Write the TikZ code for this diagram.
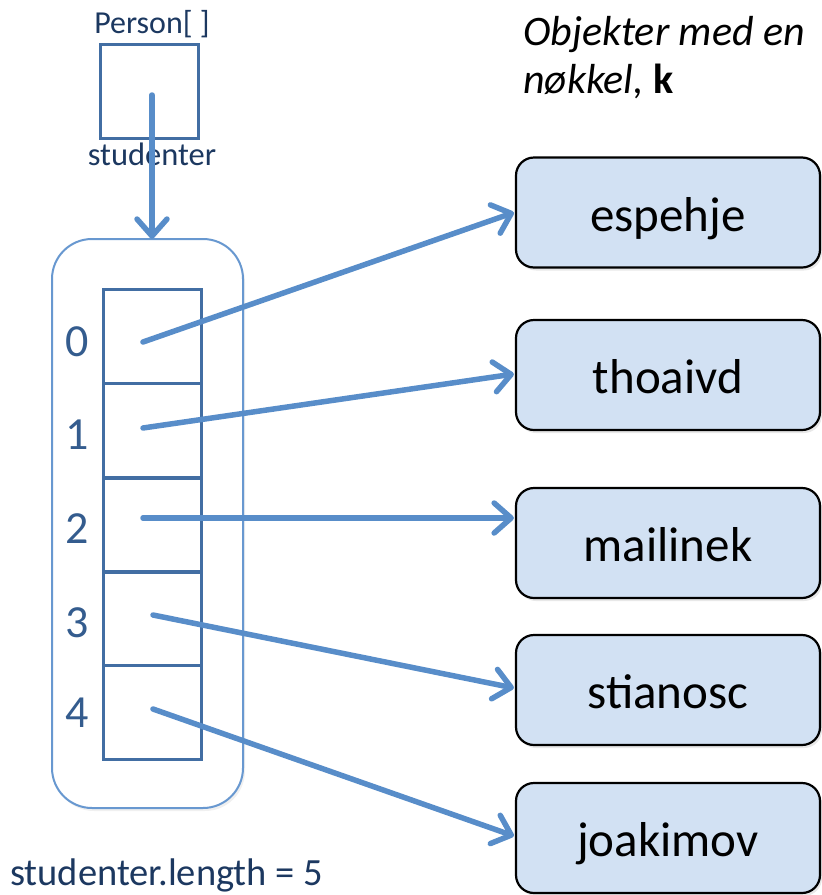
\documentclass[tikz,border=0pt]{standalone}
\usepackage{fontspec}
\setmainfont{Carlito}
\usetikzlibrary{arrows.meta,shadows}

\definecolor{arrowblue}{RGB}{88,141,201}
\definecolor{cellblue}{RGB}{66,110,163}
\definecolor{frameblue}{RGB}{104,152,208}
\definecolor{navy}{RGB}{28,56,96}
\definecolor{idxblue}{RGB}{52,92,142}
\definecolor{boxfill}{RGB}{210,225,243}

\tikzset{
  ptr/.style={draw=arrowblue, line width=5.5pt, line cap=round,
    -{Straight Barb[length=17pt, width=30pt, line cap=round, line join=round]}},
  cell/.style={draw=cellblue, line width=3pt, minimum width=98pt,
    minimum height=94pt, inner sep=0pt},
  objbox/.style={draw=black, line width=2.2pt, fill=boxfill, rounded corners=18pt,
    minimum width=304pt, minimum height=110pt, inner sep=0pt,
    text height=37pt, text depth=0pt,
    font=\fontsize{49}{58}\selectfont,
    drop shadow={opacity=0.18, shadow xshift=2pt, shadow yshift=-3pt}},
  idx/.style={text=idxblue, anchor=base, inner sep=0pt,
    font=\fontsize{46}{54}\selectfont},
  lbl/.style={text=navy, inner sep=0pt},
}

\begin{document}
\begin{tikzpicture}[x=1pt, y=-1pt]
\useasboundingbox (0,0) rectangle (822,895);

% reference variable
\node[lbl, anchor=base, font=\fontsize{32}{38}\selectfont] (ptype) at (152,33) {Person[ ]};
\node[draw=cellblue, line width=3pt, minimum width=98pt, minimum height=94pt,
      inner sep=0pt] (var) at (149,91) {};
\node[lbl, anchor=base, font=\fontsize{32.5}{38}\selectfont] (vname) at (152,165) {studenter};
\coordinate (ref) at (152,95);

% array object
\draw[frameblue, line width=2pt, rounded corners=40pt,
      drop shadow={opacity=0.12, shadow xshift=2pt, shadow yshift=-3pt}, fill=white]
  (52,239) rectangle (243,808);
\node[inner sep=0pt, minimum width=191pt, minimum height=569pt] (arr) at (147.5,523.5) {};

\node[cell] (c0) at (152,336.5) {};
\node[cell] (c1) at (152,430.5) {};
\node[cell] (c2) at (152,525) {};
\node[cell] (c3) at (152,618.5) {};
\node[cell] (c4) at (152,712.5) {};

\node[idx] (i0) at (77,356) {0};
\node[idx] (i1) at (77,449) {1};
\node[idx] (i2) at (77,543) {2};
\node[idx] (i3) at (77,637) {3};
\node[idx] (i4) at (77,727) {4};

\node[lbl, anchor=base west, font=\fontsize{38.5}{46}\selectfont] (len) at (10,885)
  {studenter.length = 5};

% objects
\node[anchor=base west, inner sep=0pt, font=\fontsize{42}{50}\selectfont\itshape]
  (cap1) at (523,45) {Objekter med en};
\node[anchor=base west, inner sep=0pt, font=\fontsize{42}{50}\selectfont\itshape]
  (cap2) at (523,93) {nøkkel, \textbf{\upshape k}};

\node[objbox] (b0) at (668,212.5) {espehje};
\node[objbox] (b1) at (668,375) {thoaivd};
\node[objbox] (b2) at (668,543) {mailinek};
\node[objbox] (b3) at (668,690) {stianosc};
\node[objbox] (b4) at (668,838) {joakimov};

% pointer origins inside the cells
\coordinate (s0) at (143,342);
\coordinate (s1) at (143,428);
\coordinate (s2) at (143,518);
\coordinate (s3) at (153,615);
\coordinate (s4) at (153,709);

% pointers
\draw[ptr] (ref) -- (ref |- arr.north);
\draw[ptr] (s0) -- ([xshift=-1pt]b0.west);
\draw[ptr] (s1) -- ([xshift=-1pt,yshift=1pt]b1.west);
\draw[ptr] (s2) -- ([xshift=-1pt,yshift=25pt]b2.west);
\draw[ptr] (s3) -- ([xshift=-1pt,yshift=2pt]b3.west);
\draw[ptr] (s4) -- ([xshift=-1pt,yshift=2pt]b4.west);
\end{tikzpicture}
\end{document}
